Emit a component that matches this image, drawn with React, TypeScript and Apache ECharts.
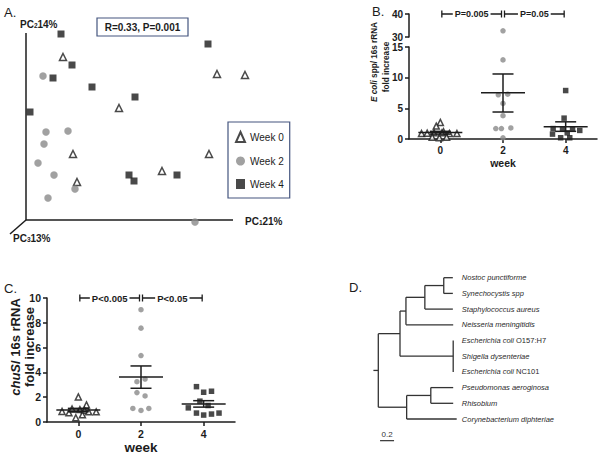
import React, { useEffect, useRef } from "react";
import * as echarts from "echarts";

const FONT = '"Liberation Sans", Arial, Helvetica, sans-serif';
const INK = "#1c1c1c";
const GRAY = "#8a8a8a";
const BOX = "#44557f";
const TREE_INK = "#2a2a2a";

// ---------- Panel A: PCoA ----------
const pcoaLegend = ["Week 0", "Week 2", "Week 4"];
const pcoaWeek0 = [[37, 163], [191, 146], [219, 145], [93, 112], [47, 66], [183, 66], [51, 38], [136, 49]];
const pcoaWeek2 = [[15, 144], [18, 88], [40, 89], [16, 76], [10, 57], [26, 45], [47, 31], [20, 22], [167, -2]];
const pcoaWeek4 = [[31, 186], [42, 155], [23, 142], [62, 133], [105, 123], [0, 108], [178, 176], [99, 45], [104, 39], [147, 45]];
const pcoaStat = "R=0.33, P=0.001";
// [axis, subscript, variance explained]
const pcoaAxisNames = [["PC", "1", "21%"], ["PC", "2", "14%"], ["PC", "3", "13%"]];

// ---------- Panel B: E. coli / 16s rRNA ----------
const weekTicks = [0, 2, 4];
// [jitter, fold increase]
const ecoliWeek0 = [[0, 2.7], [-0.13, 2.1], [-0.6, 0.9], [-0.42, 0.95], [-0.2, 1.0], [0.1, 1.2], [0.29, 0.9], [0.53, 0.9], [-0.26, 0.3], [-0.03, 0.2], [0.2, 0.3], [0.05, 1.0]];
const ecoliWeek2 = [[0, 32.7], [0, 12.9], [-0.15, 7.2], [0.15, 7.3], [0, 5.8], [0, 3.8], [-0.23, 1.7], [-0.05, 1.7], [0.25, 1.8], [0, 0.2]];
const ecoliWeek4 = [[0, 7.9], [-0.05, 3.4], [-0.4, 1.7], [-0.1, 1.6], [0.22, 1.6], [0.45, 1.4], [0.05, 1.0], [-0.42, 0.8], [-0.16, 0.2], [0.13, 0.2]];
// [mean, mean - SEM, mean + SEM]
const ecoliStats = [[1.04, 0.8, 1.25], [7.55, 4.4, 10.6], [2.0, 1.25, 2.8]];
const ecoliPvalues = ["P=0.005", "P=0.05"];
const ecoliLowRange = [0, 15];
const ecoliHighRange = [30, 40];

// ---------- Panel C: chuS / 16s rRNA ----------
const chusWeek0 = [[0, 2.02], [0.26, 1.38], [-0.2, 1.05], [0.05, 1.0], [0.2, 0.95], [-0.52, 0.85], [-0.3, 0.74], [-0.08, 0.34], [0.13, 0.58], [0.33, 0.82], [0.57, 0.82]];
const chusWeek2 = [[0, 9.06], [0, 7.57], [0, 5.36], [0.13, 3.46], [-0.13, 3.25], [-0.13, 2.37], [0.13, 2.1], [-0.26, 1.09], [0, 0.93], [0.25, 1.09]];
const chusWeek4 = [[-0.23, 2.85], [0, 2.4], [0.25, 2.48], [-0.49, 1.14], [-0.12, 1.68], [0.14, 1.33], [-0.23, 0.72], [0, 0.56], [0.25, 0.64], [0.49, 0.72]];
const chusStats = [[0.96, 0.83, 1.1], [3.63, 2.72, 4.52], [1.45, 1.2, 1.72]];
const chusPvalues = ["P<0.005", "P<0.05"];

// ---------- Panel D: phylogenetic tree ----------
// [node, parent, branch length]
const treeNodes: [string, string, number][] = [
  ["n1", "root", 0.31],
  ["n2", "n1", 0.085],
  ["n3", "n2", 0.27],
  ["n4", "n3", 0.27],
  ["Nostoc punctiforme", "n4", 0.13],
  ["Synechocystis spp", "n4", 0.13],
  ["Staphylococcus aureus", "n3", 0.4],
  ["Neisseria meningitidis", "n2", 0.675],
  ["n5", "n1", 0.76],
  ["Escherichia coli O157:H7", "n5", 0],
  ["Shigella dysenteriae", "n5", 0],
  ["Escherichia coli NC101", "n5", 0],
  ["n6", "root", 0.405],
  ["n7", "n6", 0.345],
  ["Pseudomonas aeroginosa", "n7", 0.32],
  ["Rhisobium", "n7", 0.32],
  ["Corynebacterium diphteriae", "n6", 0.715],
];
const strainTags = ["O157:H7", "NC101"];
const treeScale = 0.2;

function layoutTree() {
  const children: Record<string, string[]> = { root: [] };
  const len: Record<string, number> = { root: 0 };
  treeNodes.forEach(([id, p, l]) => {
    (children[p] = children[p] || []).push(id);
    children[id] = children[id] || [];
    len[id] = l;
  });
  const x: Record<string, number> = {};
  const y: Record<string, number> = {};
  const leaves: string[] = [];
  const visit = (id: string, px: number) => {
    x[id] = px + len[id];
    const ch = children[id];
    if (!ch.length) {
      y[id] = leaves.length;
      leaves.push(id);
      return;
    }
    ch.forEach((c) => visit(c, x[id]));
    y[id] = (y[ch[0]] + y[ch[ch.length - 1]]) / 2;
  };
  visit("root", 0);
  const segs: number[][] = [[-0.07, y.root, 0, y.root]];
  Object.keys(children).forEach((id) => {
    const ch = children[id];
    if (ch.length) segs.push([x[id], y[ch[0]], x[id], y[ch[ch.length - 1]]]);
    ch.forEach((c) => {
      if (len[c] > 0) segs.push([x[id], y[c], x[c], y[c]]);
    });
  });
  return { segs, leaves, x, y };
}

let measureCtx: CanvasRenderingContext2D | null = null;
function measure(text: string, font: string) {
  if (!measureCtx) measureCtx = document.createElement("canvas").getContext("2d");
  measureCtx!.font = font;
  return measureCtx!.measureText(text).width;
}

const symbolFor: Record<number, any> = {
  0: { symbol: "triangle", itemStyle: { color: "#fff", borderColor: INK, borderWidth: 1.5 } },
  2: { symbol: "circle", itemStyle: { color: GRAY } },
  4: { symbol: "rect", itemStyle: { color: INK } },
};

function dotSeries(week: number, pts: number[][], xi: number, yi: number, size: number, name: string) {
  return {
    type: "scatter",
    name,
    xAxisIndex: xi,
    yAxisIndex: yi,
    symbolSize: week === 0 ? size + 0.5 : size,
    ...symbolFor[week],
    data: pts.map((p) => [week + p[0], p[1]]),
    z: 3,
  };
}

function statSeries(stats: number[][], xi: number, yi: number) {
  return {
    type: "custom",
    xAxisIndex: xi,
    yAxisIndex: yi,
    z: 5,
    itemStyle: { color: INK },
    data: stats.map((s, i) => [weekTicks[i], s[0], s[1], s[2]]),
    renderItem: (params: any, api: any) => {
      const xv = api.value(0);
      const m = api.coord([xv, api.value(1)]);
      const lo = api.coord([xv, api.value(2)]);
      const hi = api.coord([xv, api.value(3)]);
      const st = { stroke: INK, lineWidth: 1.5 };
      const ln = (x1: number, y1: number, x2: number, y2: number) => ({ type: "line", shape: { x1, y1, x2, y2 }, style: st });
      return {
        type: "group",
        children: [
          ln(m[0] - 22, m[1], m[0] + 22, m[1]),
          ln(m[0], lo[1], m[0], hi[1]),
          ln(m[0] - 10.5, lo[1], m[0] + 10.5, lo[1]),
          ln(m[0] - 10.5, hi[1], m[0] + 10.5, hi[1]),
        ],
      };
    },
  };
}

function bracketSeries(labels: string[], yValue: number, xi: number, yi: number, fontSize: number) {
  return {
    type: "custom",
    xAxisIndex: xi,
    yAxisIndex: yi,
    z: 6,
    itemStyle: { color: INK },
    data: labels.map((_, i) => [weekTicks[i], weekTicks[i + 1], yValue]),
    renderItem: (params: any, api: any) => {
      const a = api.coord([api.value(0), api.value(2)]);
      const b = api.coord([api.value(1), api.value(2)]);
      const x0 = a[0] + 1.5;
      const x1 = b[0] - 1.5;
      const y = a[1];
      const st = { stroke: INK, lineWidth: 1.3 };
      return {
        type: "group",
        children: [
          { type: "line", shape: { x1: x0, y1: y, x2: x1, y2: y }, style: st },
          { type: "line", shape: { x1: x0, y1: y - 3.5, x2: x0, y2: y + 3.5 }, style: st },
          { type: "line", shape: { x1: x1, y1: y - 3.5, x2: x1, y2: y + 3.5 }, style: st },
          {
            type: "text",
            x: (x0 + x1) / 2,
            y,
            style: {
              text: labels[params.dataIndex],
              fill: INK,
              fontSize,
              fontWeight: "bold",
              fontFamily: FONT,
              align: "center",
              verticalAlign: "middle",
              backgroundColor: "#fff",
              padding: [0, 2],
            },
          },
        ],
      };
    },
  };
}

function valueYAxis(grid: number, min: number, max: number, interval: number, fontSize: number) {
  return {
    type: "value",
    gridIndex: grid,
    min,
    max,
    interval,
    axisLine: { show: true, onZero: false, lineStyle: { color: INK, width: 1.5 } },
    axisTick: { show: true, length: 4, lineStyle: { color: INK, width: 1.5 } },
    axisLabel: { color: INK, fontSize, fontWeight: "bold", fontFamily: FONT, margin: 6 },
    splitLine: { show: false },
  };
}

function weekXAxis(grid: number, fontSize: number, nameSize: number) {
  return {
    type: "value",
    gridIndex: grid,
    min: -1,
    max: 5,
    name: "week",
    nameLocation: "middle",
    nameGap: 18,
    nameTextStyle: { color: INK, fontSize: nameSize, fontWeight: "bold", fontFamily: FONT },
    axisLine: { show: true, onZero: false, lineStyle: { color: INK, width: 1.5 } },
    axisTick: { show: true, length: 4, customValues: weekTicks, lineStyle: { color: INK, width: 1.5 } },
    axisLabel: { color: INK, fontSize, fontWeight: "bold", fontFamily: FONT, margin: 6, customValues: weekTicks },
    splitLine: { show: false },
  };
}

function hiddenAxis(grid: number, min: number, max: number, inverse = false) {
  return { type: "value", gridIndex: grid, min, max, inverse, show: false, splitLine: { show: false } };
}

function txt(text: string, x: number, y: number, opts: any = {}) {
  const { rotation, ...style } = opts;
  return {
    type: "text",
    x,
    y,
    rotation: rotation || 0,
    silent: true,
    style: {
      text,
      fill: INK,
      fontFamily: FONT,
      fontSize: 10,
      align: "left",
      textAlign: "left",
      verticalAlign: "middle",
      textVerticalAlign: "middle",
      ...style,
    },
  };
}

function pcName(idx: number, x: number, y: number) {
  const [a, sub, v] = pcoaAxisNames[idx];
  return txt(`{b|${a}}{s|${sub}}{b|${v}}`, x, y, {
    fontSize: 10,
    fontWeight: "bold",
    rich: {
      b: { fontSize: 10, fontWeight: "bold", fontFamily: FONT, fill: INK, verticalAlign: "bottom", lineHeight: 12 },
      s: { fontSize: 6.5, fontWeight: "bold", fontFamily: FONT, fill: INK, verticalAlign: "bottom", lineHeight: 9 },
    },
  });
}

function gline(x1: number, y1: number, x2: number, y2: number) {
  return { type: "line", silent: true, shape: { x1, y1, x2, y2 }, style: { stroke: INK, lineWidth: 1.5 } };
}

function buildOption() {
  const tree = layoutTree();
  const leafXs = tree.leaves.map((l) => tree.x[l]);
  const labelColumn = Math.min(...leafXs);
  const lastRow = tree.leaves.length - 1;
  const leafFontSize = 7.5;
  const italicFont = `italic ${leafFontSize}px ${FONT}`;

  const ecoliLow = (pts: number[][]) => pts.filter((p) => p[1] <= ecoliLowRange[1]);
  const ecoliHigh = (pts: number[][]) => pts.filter((p) => p[1] >= ecoliHighRange[0]);

  return {
    animation: false,
    backgroundColor: "#fff",
    grid: [
      { left: 26, top: 20, width: 260, height: 220 }, // A
      { left: 409, top: 14, width: 188, height: 23 }, // B upper
      { left: 409, top: 47, width: 188, height: 92 }, // B lower
      { left: 47, top: 298, width: 188, height: 125 }, // C
      { left: 371.3, top: 269.85, width: 98, height: 157 }, // D
    ],
    xAxis: [
      hiddenAxis(0, 0, 260),
      hiddenAxis(1, -1, 5),
      weekXAxis(2, 10, 10.5),
      weekXAxis(3, 10.5, 13.5),
      hiddenAxis(4, -0.1, 1.3),
    ],
    yAxis: [
      hiddenAxis(0, -20, 200),
      valueYAxis(1, ecoliHighRange[0], ecoliHighRange[1], 10, 10),
      valueYAxis(2, ecoliLowRange[0], ecoliLowRange[1], 5, 10),
      valueYAxis(3, 0, 10, 2, 10.5),
      hiddenAxis(4, -0.5, 9.5, true),
    ],
    legend: {
      data: pcoaLegend,
      left: 228,
      top: 122,
      orient: "vertical",
      borderColor: BOX,
      borderWidth: 1.2,
      padding: [9, 6, 9, 7],
      itemWidth: 9,
      itemHeight: 10,
      itemGap: 13,
      selectedMode: false,
      textStyle: { fontSize: 10, color: INK, fontFamily: FONT },
    },
    series: [
      // Panel A
      dotSeries(0, pcoaWeek0, 0, 0, 6.5, pcoaLegend[0]),
      dotSeries(2, pcoaWeek2, 0, 0, 7.5, pcoaLegend[1]),
      dotSeries(4, pcoaWeek4, 0, 0, 7, pcoaLegend[2]),
      // Panel B
      dotSeries(0, ecoliLow(ecoliWeek0), 2, 2, 5.5, "ecoli w0"),
      dotSeries(2, ecoliLow(ecoliWeek2), 2, 2, 5.5, "ecoli w2"),
      dotSeries(2, ecoliHigh(ecoliWeek2), 1, 1, 5.5, "ecoli w2 high"),
      dotSeries(4, ecoliLow(ecoliWeek4), 2, 2, 5.5, "ecoli w4"),
      statSeries(ecoliStats, 2, 2),
      bracketSeries(ecoliPvalues, ecoliHighRange[1], 1, 1, 9),
      // Panel C
      dotSeries(0, chusWeek0, 3, 3, 5.5, "chus w0"),
      dotSeries(2, chusWeek2, 3, 3, 5.5, "chus w2"),
      dotSeries(4, chusWeek4, 3, 3, 5.5, "chus w4"),
      statSeries(chusStats, 3, 3),
      bracketSeries(chusPvalues, 10, 3, 3, 9.5),
      // Panel D: branches
      {
        type: "custom",
        xAxisIndex: 4,
        yAxisIndex: 4,
        itemStyle: { color: "#333" },
        data: tree.segs,
        encode: { x: [0, 2], y: [1, 3] },
        renderItem: (params: any, api: any) => {
          const a = api.coord([api.value(0), api.value(1)]);
          const b = api.coord([api.value(2), api.value(3)]);
          return {
            type: "line",
            shape: { x1: a[0], y1: a[1], x2: b[0], y2: b[1] },
            style: { stroke: "#333", lineWidth: 1.3 },
          };
        },
      },
      // Panel D: leaf labels
      {
        type: "custom",
        xAxisIndex: 4,
        yAxisIndex: 4,
        itemStyle: { color: TREE_INK },
        data: tree.leaves.map((l) => [labelColumn, tree.y[l]]),
        renderItem: (params: any, api: any) => {
          const name = tree.leaves[params.dataIndex];
          const words = name.split(" ");
          const last = words[words.length - 1];
          const hasStrain = strainTags.includes(last);
          const italicPart = hasStrain ? words.slice(0, -1).join(" ") + " " : name;
          const p = api.coord([api.value(0), api.value(1)]);
          const x0 = p[0] + 9;
          const base = {
            fill: TREE_INK,
            fontSize: leafFontSize,
            fontFamily: FONT,
            align: "left",
            verticalAlign: "middle",
          };
          const children: any[] = [
            { type: "text", x: x0, y: p[1], style: { ...base, text: italicPart, fontStyle: "italic" } },
          ];
          if (hasStrain) {
            children.push({
              type: "text",
              x: x0 + measure(italicPart, italicFont),
              y: p[1],
              style: { ...base, text: last, fontStyle: "normal" },
            });
          }
          return { type: "group", children };
        },
      },
      // Panel D: scale bar
      {
        type: "custom",
        xAxisIndex: 4,
        yAxisIndex: 4,
        itemStyle: { color: "#333" },
        data: [[0.025, lastRow + 1.38, treeScale]],
        renderItem: (params: any, api: any) => {
          const a = api.coord([api.value(0), api.value(1)]);
          const b = api.coord([api.value(0) + api.value(2), api.value(1)]);
          return {
            type: "group",
            children: [
              { type: "line", shape: { x1: a[0], y1: a[1], x2: b[0], y2: b[1] }, style: { stroke: "#333", lineWidth: 1.2 } },
              {
                type: "text",
                x: (a[0] + b[0]) / 2,
                y: a[1] - 2.5,
                style: { text: String(api.value(2)), fill: "#333", fontSize: 8, fontFamily: FONT, align: "center", verticalAlign: "bottom" },
              },
            ],
          };
        },
      },
    ],
    graphic: [
      // panel letters
      txt("A.", 4, 12, { fontSize: 13 }),
      txt("B.", 372, 11, { fontSize: 13 }),
      txt("C.", 4, 288, { fontSize: 13 }),
      txt("D.", 349, 287, { fontSize: 13 }),
      // panel A axes
      gline(26, 33, 26, 220),
      gline(26, 220, 233, 220),
      gline(26, 220, 10, 234),
      pcName(0, 245, 220),
      pcName(1, 20, 23),
      pcName(2, 13, 237),
      {
        type: "rect",
        silent: true,
        shape: { x: 97, y: 18, width: 91, height: 18 },
        style: { fill: "none", stroke: BOX, lineWidth: 1.2 },
      },
      txt(pcoaStat, 142.5, 27, { fontSize: 10, fontWeight: "bold", align: "center", textAlign: "center" }),
      // panel B y name
      txt("{i|E coli} spp/ 16s rRNA", 374, 62, {
        rotation: Math.PI / 2,
        fontSize: 8.2,
        fontWeight: "bold",
        align: "center",
        textAlign: "center",
        rich: { i: { fontStyle: "italic", fontWeight: "bold", fontSize: 8.2, fontFamily: FONT, fill: INK } },
      }),
      txt("fold increase", 386, 67, { rotation: Math.PI / 2, fontSize: 8.2, fontWeight: "bold", align: "center", textAlign: "center" }),
      // panel C y name
      txt("{i|chuS}/ 16s rRNA", 15, 347, {
        rotation: Math.PI / 2,
        fontSize: 13,
        fontWeight: "bold",
        align: "center",
        textAlign: "center",
        rich: { i: { fontStyle: "italic", fontWeight: "bold", fontSize: 13, fontFamily: FONT, fill: INK } },
      }),
      txt("fold increase", 29, 347, { rotation: Math.PI / 2, fontSize: 13, fontWeight: "bold", align: "center", textAlign: "center" }),
    ],
  };
}

export default function App() {
  const ref = useRef<HTMLDivElement>(null);
  useEffect(() => {
    const chart = echarts.init(ref.current!, null, { renderer: "svg" });
    chart.setOption(buildOption() as any);
    return () => chart.dispose();
  }, []);
  return (
    <div
      ref={ref}
      style={{ position: "fixed", left: 0, top: 0, width: 600, height: 455, background: "#fff" }}
    />
  );
}
